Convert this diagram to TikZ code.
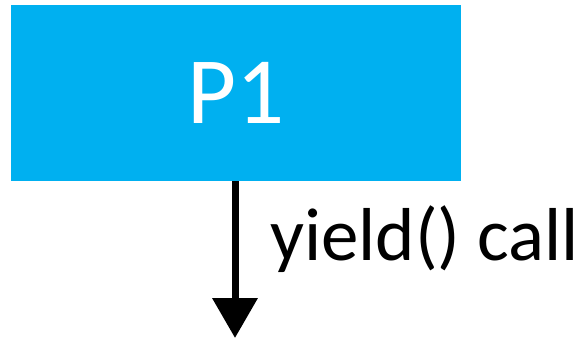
\documentclass[tikz,border=0pt]{standalone}
\usepackage{fontspec}
\setmainfont{Carlito}
\usetikzlibrary{positioning,arrows.meta}
\definecolor{procblue}{HTML}{00B0F0}

\begin{document}
\begin{tikzpicture}[
  x=1pt, y=1pt,
  >={Triangle[length=40pt,width=44pt]},
  process/.style={fill=procblue,minimum width=450pt,minimum height=176pt,inner sep=0pt,
    text=white,font=\fontsize{95}{100}\selectfont},
  flow/.style={->,line width=7pt},
  lbl/.style={inner sep=0pt,font=\fontsize{75}{80}\selectfont}
]
  \useasboundingbox (0,0) rectangle (578,-338);
  \node[process] (p1) at (236,-93) {P1};
  \coordinate (stop) at (235,-338);
  \node[lbl,anchor=base west] (yield) at (270,-260) {yield() call};

  \draw[flow] (p1.south -| stop) -- (stop);
\end{tikzpicture}
\end{document}
